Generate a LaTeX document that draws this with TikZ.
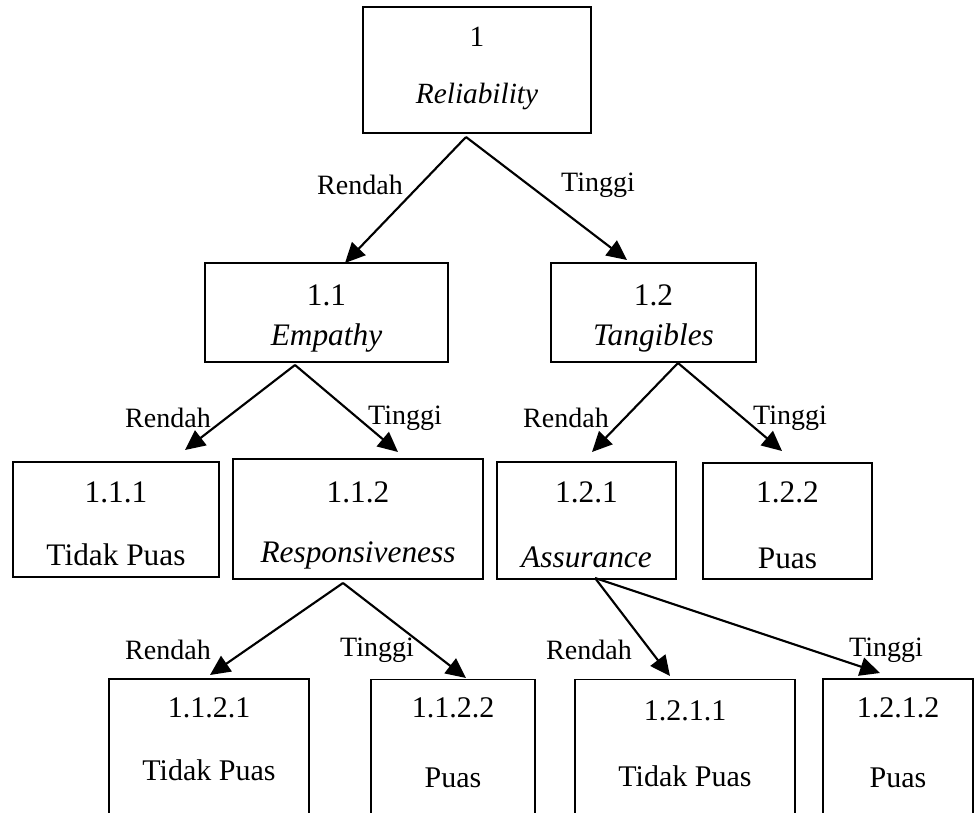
\documentclass[tikz,border=0pt]{standalone}
\usepackage{fontspec}
\setmainfont{Liberation Serif}
\usetikzlibrary{arrows.meta}

\tikzset{
  box/.style={draw, line width=1.4pt, inner sep=0pt, rectangle},
  sz/.style 2 args={minimum width={#1*0.75pt}, minimum height={#2*0.75pt}},
  txt/.style={inner sep=0pt, font=\fontsize{23.5pt}{26pt}\selectfont},
  toptxt/.style={inner sep=0pt, font=\fontsize{22pt}{25pt}\selectfont},
  lowtxt/.style={inner sep=0pt, font=\fontsize{22.5pt}{25pt}\selectfont},
  branch/.style={inner sep=0pt, font=\fontsize{21pt}{24pt}\selectfont},
  edge/.style={line width=1.6pt, -{Triangle[length=15pt,width=14pt]}}
}

\begin{document}
\begin{tikzpicture}[x=0.75pt, y=-0.75pt]
\useasboundingbox (0,0) rectangle (975,813);
\clip (0,0) rectangle (975,813);

% root
\node[box, sz={228}{126}] (n1) at (477,70) {};
\node[toptxt] (n1a) at (477,37) {1};
\node[toptxt] (n1b) at (477,96) {\itshape Reliability};

% second level
\node[box, sz={243}{99}] (n11) at (326.5,312.5) {};
\node[txt] (n11a) at (326.5,295) {1.1};
\node[txt] (n11b) at (326.5,338) {\itshape Empathy};
\node[box, sz={205}{99}] (n12) at (653.5,312.5) {};
\node[txt] (n12a) at (653.5,295) {1.2};
\node[txt] (n12b) at (653.5,338) {\itshape Tangibles};

% third level
\node[box, sz={206}{115}] (n111) at (116,519.5) {};
\node[txt] (n111a) at (116,492) {1.1.1};
\node[txt] (n111b) at (116,555) {Tidak Puas};
\node[box, sz={250}{120}] (n112) at (358,519) {};
\node[txt] (n112a) at (358,492) {1.1.2};
\node[txt] (n112b) at (358,555) {\itshape Responsiveness};
\node[box, sz={179}{117}] (n121) at (586.5,520.5) {};
\node[txt] (n121a) at (586.5,492) {1.2.1};
\node[txt] (n121b) at (586.5,557) {\itshape Assurance};
\node[box, sz={169}{116}] (n122) at (787.5,521) {};
\node[txt] (n122a) at (787.5,492) {1.2.2};
\node[txt] (n122b) at (787.5,558) {Puas};

% fourth level (open towards the bottom edge)
\node[box, sz={200}{161}] (n1121) at (209,759.5) {};
\node[lowtxt] (n1121a) at (209,708) {1.1.2.1};
\node[lowtxt] (n1121b) at (209,770) {Tidak Puas};
\node[box, sz={164}{161}] (n1122) at (453,760) {};
\node[lowtxt] (n1122a) at (453,708) {1.1.2.2};
\node[lowtxt] (n1122b) at (453,778) {Puas};
\node[box, sz={220}{161}] (n1211) at (685,760) {};
\node[lowtxt] (n1211a) at (685,711) {1.2.1.1};
\node[lowtxt] (n1211b) at (685,776) {Tidak Puas};
\node[box, sz={150}{161}] (n1212) at (898,759.5) {};
\node[lowtxt] (n1212a) at (898,708) {1.2.1.2};
\node[lowtxt] (n1212b) at (898,778) {Puas};

% split points below each parent and arrow ends above each child
\coordinate (s1) at (466,137);
\coordinate (e11) at (345,263);
\coordinate (e12) at (627,260);
\coordinate (s11) at (295,365);
\coordinate (e111) at (185,450);
\coordinate (e112) at (398,452);
\coordinate (s12) at (678,363);
\coordinate (e121) at (592,452);
\coordinate (e122) at (782,451);
\coordinate (s112) at (343,583);
\coordinate (e1121) at (210,675);
\coordinate (e1122) at (466,678);
\coordinate (s121) at (595,578);
\coordinate (e1211) at (670,676);
\coordinate (e1212) at (880,673);

\draw[edge] (s1) -- (e11);
\draw[edge] (s1) -- (e12);
\draw[edge] (s11) -- (e111);
\draw[edge] (s11) -- (e112);
\draw[edge] (s12) -- (e121);
\draw[edge] (s12) -- (e122);
\draw[edge] (s112) -- (e1121);
\draw[edge] (s112) -- (e1122);
\draw[edge] (s121) -- (e1211);
\draw[edge] (s121) -- (e1212);

% branch labels
\node[branch] (b1r) at (360,185) {Rendah};
\node[branch] (b1t) at (598,185) {Tinggi};
\node[branch] (b11r) at (168,418) {Rendah};
\node[branch] (b11t) at (405,418) {Tinggi};
\node[branch] (b12r) at (566,418) {Rendah};
\node[branch] (b12t) at (790,418) {Tinggi};
\node[branch] (b112r) at (168,650) {Rendah};
\node[branch] (b112t) at (377,650) {Tinggi};
\node[branch] (b121r) at (589,650) {Rendah};
\node[branch] (b121t) at (886,650) {Tinggi};
\end{tikzpicture}
\end{document}
